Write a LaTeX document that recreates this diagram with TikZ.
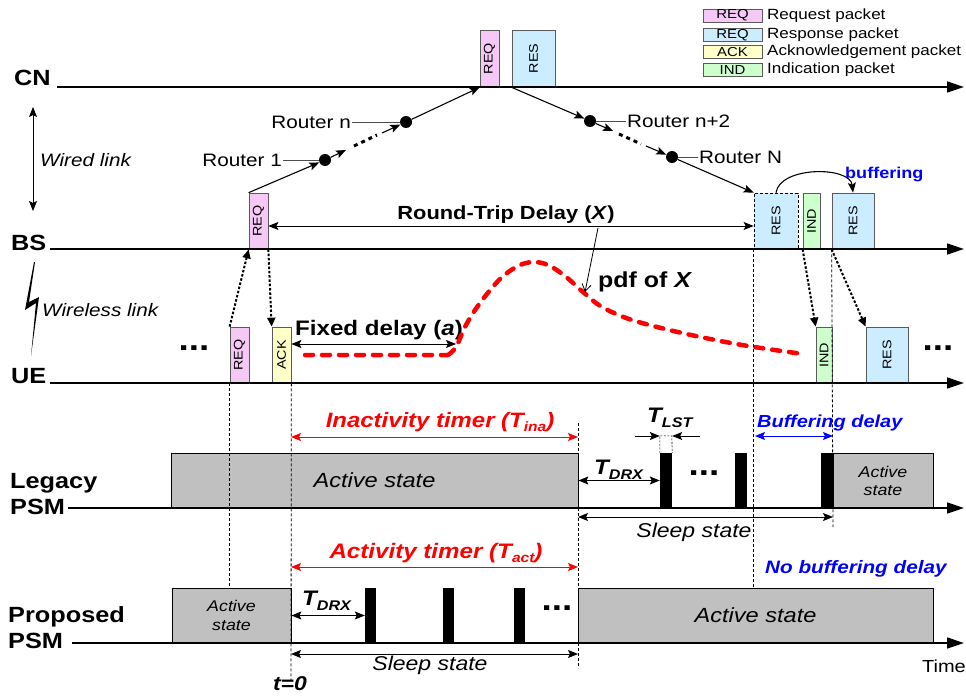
\documentclass[tikz,border=0pt]{standalone}
\usepackage{fontspec}
\setmainfont{Liberation Sans}[FakeStretch=1.15]
\usepackage{graphicx}
\usetikzlibrary{arrows.meta}
\definecolor{reqpink}{RGB}{245,200,245}
\definecolor{rescyan}{RGB}{204,236,255}
\definecolor{ackyel}{RGB}{255,255,200}
\definecolor{indgrn}{RGB}{204,255,204}
\definecolor{stgray}{RGB}{192,192,192}
\definecolor{pktedge}{RGB}{90,90,90}
\newcommand\fsz[1]{\fontsize{#1}{#1}\selectfont}
\begin{document}
\begin{tikzpicture}[x=1pt,y=-1pt,
  axis/.style={line width=1.4pt,-{Triangle[length=17pt,width=11pt]}},
  conn/.style={line width=1.1pt,-{Stealth[length=10pt,width=8pt,inset=2pt]}},
  dconn/.style={line width=1pt,{Stealth[length=10pt,width=8pt,inset=2pt]}-{Stealth[length=10pt,width=8pt,inset=2pt]}},
  pkt/.style={draw=pktedge,line width=0.7pt,inner sep=0pt,font=\fsz{12.5}},
  rdot/.style={circle,fill=black,inner sep=0pt,minimum size=12pt},
  rlbl/.style={font=\fsz{18},inner sep=1pt},
  rline/.style={draw=black!70,line width=0.8pt},
  guide/.style={line width=0.8pt,dash pattern=on 3pt off 2pt},
  wl/.style={line width=2pt,dash pattern=on 2.5pt off 1.8pt,-{Triangle[length=9pt,width=8pt]}},
  hops/.style={line width=3pt,dash pattern=on 4pt off 4pt},
  statebox/.style={draw=black,line width=0.8pt,fill=stgray,inner sep=0pt,minimum height=55pt},
  barbox/.style={fill=black,inner sep=0pt,minimum height=55pt},
  axlbl/.style={font=\bfseries\fsz{22},inner sep=0pt,anchor=base west},
  lgtxt/.style={font=\fsz{14.8},inner sep=0pt,anchor=west},
  dots/.style={font=\bfseries\fsz{32},inner sep=0pt},
  tlbl/.style={font=\bfseries\itshape\fsz{21},inner sep=0pt,anchor=base west},
]
\useasboundingbox (0,0) rectangle (966,698);

% ---------- state boxes (drawn first) ----------
\node[statebox,minimum width=407pt,font=\itshape\fsz{20.5}] (la1) at (374.5,480.5) {Active state};
\node[statebox,minimum width=100pt,font=\itshape\fontsize{15.5}{18}\selectfont,align=center] (la2) at (883,480.5) {Active\\state};
\node[barbox,minimum width=12pt] (lb1) at (666,480.5) {};
\node[barbox,minimum width=12pt] (lb2) at (741,480.5) {};
\node[barbox,minimum width=12pt] (lb3) at (827,480.5) {};
\node[statebox,minimum width=119pt,font=\itshape\fontsize{15.5}{19}\selectfont,align=center] (pa1) at (231.5,615.5) {Active\\state};
\node[statebox,minimum width=355pt,font=\itshape\fsz{20.5}] (pa2) at (755.5,615.5) {Active state};
\node[barbox,minimum width=11pt] (pb1) at (370.5,615.5) {};
\node[barbox,minimum width=11pt] (pb2) at (448.5,615.5) {};
\node[barbox,minimum width=11pt] (pb3) at (519.5,615.5) {};

% ---------- packets ----------
\node[pkt,fill=reqpink,minimum width=19pt,minimum height=57pt] (cnReq) at (489.5,58.5) {\rotatebox{90}{REQ}};
\node[pkt,fill=rescyan,minimum width=43pt,minimum height=57pt] (cnRes) at (533.5,58.5) {\rotatebox{90}{RES}};
\node[pkt,fill=reqpink,minimum width=19pt,minimum height=56pt] (bsReq) at (258.5,221) {\rotatebox{90}{REQ}};
\node[pkt,fill=rescyan,minimum width=44pt,minimum height=56pt,draw=black,dash pattern=on 3pt off 2pt] (bsResD) at (776,221) {\rotatebox{90}{RES}};
\node[pkt,fill=indgrn,minimum width=17pt,minimum height=56pt] (bsInd) at (811.5,221) {\rotatebox{90}{IND}};
\node[pkt,fill=rescyan,minimum width=42pt,minimum height=56pt] (bsRes) at (853,221) {\rotatebox{90}{RES}};
\node[pkt,fill=reqpink,minimum width=19pt,minimum height=56pt] (ueReq) at (239.5,355) {\rotatebox{90}{REQ}};
\node[pkt,fill=ackyel,minimum width=19pt,minimum height=56pt] (ueAck) at (281.5,355) {\rotatebox{90}{ACK}};
\node[pkt,fill=indgrn,minimum width=16pt,minimum height=56pt] (ueInd) at (824,355) {\rotatebox{90}{IND}};
\node[pkt,fill=rescyan,minimum width=42pt,minimum height=56pt] (ueRes) at (887,355) {\rotatebox{90}{RES}};

% ---------- legend ----------
\node[pkt,fill=reqpink,minimum width=59pt,minimum height=13pt,font=\fsz{13}] (lg1) at (732.5,15.5) {REQ};
\node[pkt,fill=rescyan,minimum width=59pt,minimum height=13pt,font=\fsz{13}] (lg2) at (732.5,35) {REQ};
\node[pkt,fill=ackyel,minimum width=59pt,minimum height=13pt,font=\fsz{13}] (lg3) at (732.5,52) {ACK};
\node[pkt,fill=indgrn,minimum width=59pt,minimum height=13pt,font=\fsz{13}] (lg4) at (732.5,70) {IND};
\node[lgtxt] (lt1) at (767,15.5) {Request packet};
\node[lgtxt] (lt2) at (767,35) {Response packet};
\node[lgtxt] (lt3) at (767,52) {Acknowledgement packet};
\node[lgtxt] (lt4) at (767,70) {Indication packet};

% ---------- axis labels and axes ----------
\node[axlbl] (cnL) at (14,86) {CN};
\node[axlbl] (bsL) at (11,250) {BS};
\node[axlbl] (ueL) at (11,383) {UE};
\node[axlbl] (lgL1) at (10,488) {Legacy};
\node[axlbl] (lgL2) at (10,514) {PSM};
\node[axlbl] (prL1) at (8,622) {Proposed};
\node[axlbl] (prL2) at (8,648) {PSM};
\coordinate (cnS) at (57,87);  \coordinate (cnE) at (964,87);
\coordinate (bsS) at (50,249); \coordinate (bsE) at (964,249);
\coordinate (ueS) at (50,383); \coordinate (ueE) at (964,383);
\coordinate (lgS) at (68,508); \coordinate (lgE) at (964,508);
\coordinate (prS) at (72,643); \coordinate (prE) at (964,643);
\draw[axis] (cnS) -- (cnE);
\draw[axis] (bsS) -- (bsE);
\draw[axis] (ueS) -- (ueE);
\draw[axis] (lgS) -- (lgE);
\draw[axis] (prS) -- (prE);
\node[font=\fsz{17.4},inner sep=0pt,anchor=base east] (timeL) at (966,672) {Time};

% ---------- wired / wireless link ----------
\coordinate (wA) at (33,107); \coordinate (wB) at (33,211);
\draw[dconn] (wA) -- (wB);
\node[font=\itshape\fsz{18},inner sep=0pt,anchor=west] (wiredL) at (40,160) {Wired link};
\fill (34,262) -- (25,310) -- (36,303) -- (31,356) -- (39,297) -- (29,302) -- (35,262) -- cycle;
\node[font=\itshape\fsz{18},inner sep=0pt,anchor=west] (wlessL) at (42,310) {Wireless link};

% ---------- routers ----------
\node[rdot] (r1) at (325,160) {};
\node[rdot] (rn) at (406,122) {};
\node[rdot] (rn2) at (590,121) {};
\node[rdot] (rN) at (672,157) {};
\node[rlbl,anchor=east] (r1L) at (283,160) {Router 1};
\node[rlbl,anchor=east] (rnL) at (352,122) {Router n};
\node[rlbl,anchor=west] (rn2L) at (626,121) {Router n+2};
\node[rlbl,anchor=west] (rNL) at (698,157) {Router N};
\draw[rline] (r1L.east) -- (r1);
\draw[rline] (rnL.east) -- (rn);
\draw[rline] (rn2) -- (rn2L.west);
\draw[rline] (rN) -- (rNL.west);

\draw[conn] (bsReq.north west) -- (r1);
\coordinate (h1a) at (346,150); \coordinate (h1b) at (354,146); \coordinate (h1c) at (377,135); \coordinate (h1d) at (382,133);
\draw[conn] (r1) -- (h1a);
\draw[hops] (h1b) -- (h1c);
\draw[conn] (h1d) -- (rn);
\draw[conn] (rn) -- (cnReq.south west);
\draw[conn] (cnRes.south west) -- (rn2);
\coordinate (h2a) at (613,131); \coordinate (h2b) at (619,134); \coordinate (h2c) at (641,144); \coordinate (h2d) at (646,146);
\draw[conn] (rn2) -- (h2a);
\draw[hops] (h2b) -- (h2c);
\draw[conn] (h2d) -- (rN);
\draw[conn] (rN) -- (bsResD.north west);

% buffering
\draw[conn] (bsResD.north) .. controls (780,166) and (850,166) .. (bsRes.north);
\node[font=\bfseries\fsz{15.7},text=blue,inner sep=0pt,anchor=base west] (bufL) at (845,178) {buffering};

% ---------- wireless transfers ----------
\draw[wl] (ueReq.north west) -- (bsReq.south west);
\draw[wl] (bsReq.south east) -- (ueAck.north west);
\draw[wl] (bsInd.south west) -- (ueInd.north west);
\draw[wl] (bsRes.south west) -- (ueRes.north west);

% ---------- round-trip, fixed delay, pdf ----------
\draw[dconn] ([yshift=-5pt]bsReq.east) -- ([yshift=-5pt]bsResD.west);
\node[font=\bfseries\fsz{19},inner sep=0pt,anchor=base] (rtL) at (506,219) {Round-Trip Delay (\textit{X})};
\coordinate (fdE) at (456,344);
\draw[dconn] ([yshift=11pt]ueAck.east) -- (fdE);
\node[font=\bfseries\fsz{21},inner sep=0pt,anchor=base] (fdL) at (379,335) {Fixed delay (\textit{a})};
\draw[red,line width=4.5pt,dash pattern=on 8pt off 9pt,line cap=round]
  (305,355) -- (448,355)
  plot[smooth,tension=0.55] coordinates {(448,355) (456,347) (466,325) (480,303) (500,279) (518,266) (533,262) (548,265) (565,276) (583,292) (602,307) (632,320) (682,333) (742,345) (803,354)};
\coordinate (pdA) at (598,228); \coordinate (pdB) at (585,292);
\draw[line width=0.8pt,-{Straight Barb[length=7pt,width=9pt]}] (pdA) -- (pdB);
\node[font=\bfseries\fsz{21.7},inner sep=0pt,anchor=base west] (pdfL) at (598,287) {pdf of \textit{X}};

% ---------- dots ----------
\node[dots] (d1) at (194,348) {...};
\node[dots] (d2) at (938,348) {...};
\node[dots] (d3) at (704,473) {...};
\node[dots] (d4) at (557,608) {...};

% ---------- guide lines ----------
\draw[guide] (ueReq.south west) -- (ueReq.south west |- pa1.north);
\coordinate (g2e) at (291,682);
\draw[guide] (ueAck.south east) -- (g2e);
\coordinate (g3a) at (578,423); \coordinate (g3b) at (578,668);
\draw[guide] (g3a) -- (g3b);
\draw[guide] (bsResD.south west) -- (bsResD.south west |- pa2.north);
\coordinate (g5e) at (833,527);
\draw[guide] (bsRes.south west) -- (g5e);

% ---------- Legacy PSM annotations ----------
\coordinate (inA) at (291,437); \coordinate (inB) at (578,437);
\draw[dconn,red] (inA) -- (inB);
\node[font=\bfseries\itshape\fsz{20.8},text=red,inner sep=0pt,anchor=base] (inL) at (440,427) {Inactivity timer (T\raisebox{-4pt}{\fsz{13.5}ina})};
\draw[dconn] (la1.east) -- (lb1.west);
\node[tlbl] (tdrxL) at (594,474) {T\raisebox{-5pt}{\fsz{14}DRX}};
\coordinate (lsA) at (635,436); \coordinate (lsB) at (700,436);
\draw[conn,line width=0.9pt] (lsA) -- ([yshift=44.5pt]lb1.west);
\draw[conn,line width=0.9pt] (lsB) -- ([yshift=44.5pt]lb1.east);
\draw[line width=0.6pt,dash pattern=on 2pt off 1.5pt] (lb1.north west) -- ++(0,-17) -- ++(12,0) -- (lb1.north east);
\node[tlbl] (tlstL) at (647,422) {T\raisebox{-5pt}{\fsz{14}LST}};
\coordinate (bfA) at (755,436); \coordinate (bfB) at (833,436);
\draw[dconn,blue] (bfA) -- (bfB);
\node[font=\bfseries\itshape\fsz{17.4},text=blue,inner sep=0pt,anchor=base west] (bfL) at (757,427) {Buffering delay};
\coordinate (slA) at (578,517); \coordinate (slB) at (833,517);
\draw[dconn] (slA) -- (slB);
\node[font=\itshape\fsz{20},inner sep=0pt,anchor=base] (slL) at (694,537) {Sleep state};

% ---------- Proposed PSM annotations ----------
\coordinate (acA) at (291,567); \coordinate (acB) at (578,567);
\draw[dconn,red] (acA) -- (acB);
\node[font=\bfseries\itshape\fsz{21},text=red,inner sep=0pt,anchor=base] (acL) at (436,558) {Activity timer (T\raisebox{-4pt}{\fsz{13.5}act})};
\node[font=\bfseries\itshape\fsz{18},text=blue,inner sep=0pt,anchor=base west] (nbL) at (765,573) {No buffering delay};
\draw[dconn] (pa1.east) -- (pb1.west);
\node[tlbl] (tdrxP) at (302,605) {T\raisebox{-5pt}{\fsz{14}DRX}};
\coordinate (spA) at (291,654); \coordinate (spB) at (578,654);
\draw[dconn] (spA) -- (spB);
\node[font=\itshape\fsz{20},inner sep=0pt,anchor=base] (spL) at (430,670) {Sleep state};
\node[font=\bfseries\itshape\fsz{20},inner sep=0pt,anchor=base] (t0L) at (290,690) {t=0};
\end{tikzpicture}
\end{document}
